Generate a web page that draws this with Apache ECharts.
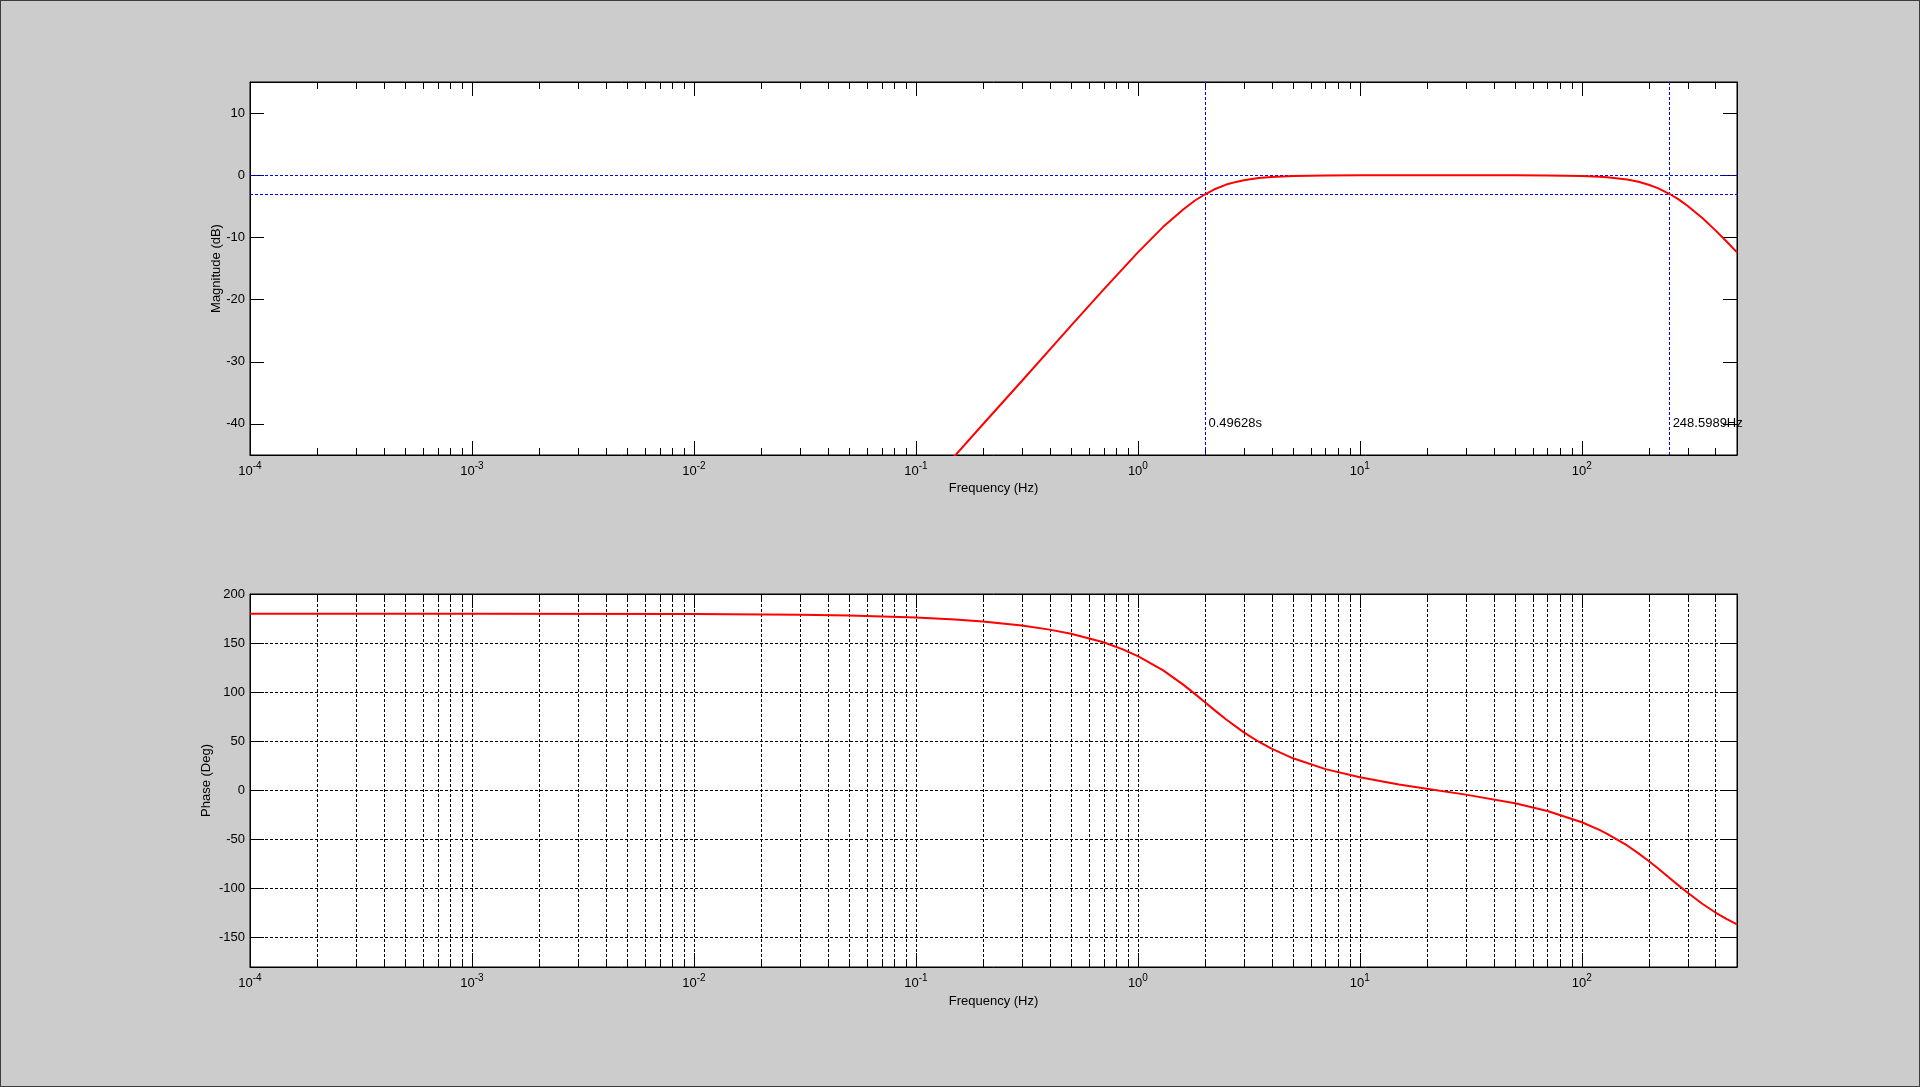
<!DOCTYPE html>
<html>
<head>
<meta charset="utf-8">
<title>Bode plot</title>
<script src="https://cdn.jsdelivr.net/npm/echarts@6/dist/echarts.min.js"></script>
<style>
  html, body { margin: 0; padding: 0; background: #cccccc; }
  #bode { width: 1920px; height: 1087px; box-sizing: border-box; border: 1px solid #3c3c3c; }
</style>
</head>
<body>
<div id="bode"></div>
<script>
// magnitude curve
const magFreqHz = [0.1, 0.15, 0.2, 0.3, 0.4, 0.5, 0.7, 1, 1.3, 1.6, 1.8, 2, 2.2, 2.5, 2.8, 3, 3.5, 4, 5, 7, 10, 15, 20, 30, 50, 70, 100, 120, 130, 160, 180, 200, 220, 250, 275, 300, 350, 400, 450, 500];
const magDb = [-52.2, -45.1, -40.1, -33.1, -28.1, -24.2, -18.4, -12.4, -8.3, -5.5, -4.1, -3.1, -2.3, -1.5, -1.03, -0.8, -0.45, -0.27, -0.11, -0.03, 0, 0, 0, 0, -0.01, -0.03, -0.11, -0.23, -0.31, -0.69, -1.05, -1.52, -2.08, -3.06, -3.97, -4.94, -6.93, -8.87, -10.7, -12.4];

// phase curve
const phaseFreqHz = [0.0001, 0.001, 0.01, 0.03, 0.05, 0.1, 0.15, 0.2, 0.3, 0.4, 0.5, 0.7, 0.85, 1, 1.3, 1.6, 1.8, 2, 2.2, 2.5, 3, 3.5, 4, 5, 7, 10, 15, 20, 30, 50, 70, 100, 120, 130, 160, 180, 200, 220, 250, 275, 300, 350, 400, 450, 500];
const phaseDeg = [180, 180, 179.6, 178.8, 178.0, 176.0, 173.9, 171.9, 167.8, 163.7, 159.5, 150.8, 143.8, 136.7, 122.2, 107.7, 98.5, 89.9, 82.2, 72.1, 59.0, 49.5, 42.4, 32.6, 21.6, 13.3, 6.0, 1.7, -4.4, -13.2, -21.1, -32.5, -40.3, -44.3, -56.2, -64.2, -72.0, -79.4, -89.8, -97.6, -104.4, -115.8, -124.5, -131.3, -136.6];

// cursor lines and their labels
const refLevelsDb = [0, -3];
const cutoffLowHz = 2.015;
const cutoffHighHz = 248.5989;
const cutoffLowLabel = '0.49628s';
const cutoffHighLabel = '248.5989Hz';
const cutoffLabelDb = -40;

// axes
const freqMin = 0.0001, freqMax = 500;
const magMin = -45, magMax = 15;
const phaseMin = -180, phaseMax = 200;
const magTicks = [-40, -30, -20, -10, 0, 10];
const phaseTicks = [-150, -100, -50, 0, 50, 100, 150, 200];
const decades = [0.0001, 0.001, 0.01, 0.1, 1, 10, 100];
const mantissas = [2, 3, 4, 5, 6, 7, 8, 9];

const minorFreqs = [];
decades.forEach(d => mantissas.forEach(m => { if (m * d < freqMax) minorFreqs.push(m * d); }));

const FONT = 'Arial, "Liberation Sans", sans-serif';
const chart = echarts.init(document.getElementById('bode'));

const grids = [
  { left: 249, top: 81, width: 1487, height: 373 },
  { left: 249, top: 593, width: 1487, height: 373 }
];

function decadeLabel(v) {
  const e = Math.log10(v);
  const r = Math.round(e);
  if (Math.abs(e - r) > 1e-6) return '';
  return '{b|10}{s|' + r + '}';
}

function freqAxis(gridIndex, position, withLabels, grid) {
  return {
    type: 'log', logBase: 10, gridIndex: gridIndex, position: position,
    min: freqMin, max: freqMax,
    name: withLabels ? 'Frequency (Hz)' : '',
    nameLocation: 'middle', nameGap: gridIndex === 0 ? 27 : 28, nameMoveOverlap: false,
    nameTextStyle: { color: '#000', fontSize: 13, fontFamily: FONT },
    axisLine: { show: true, onZero: false, lineStyle: { color: '#000', width: 1 } },
    axisTick: { show: true, inside: true, length: 14, lineStyle: { color: '#000' } },
    axisLabel: {
      show: withLabels, margin: 6, formatter: decadeLabel,
      rich: {
        b: { fontSize: 13, color: '#000', fontFamily: FONT, verticalAlign: 'bottom' },
        s: { fontSize: 10, color: '#000', fontFamily: FONT, verticalAlign: 'bottom', padding: [0, 0, 7, 0] }
      }
    },
    splitLine: { show: grid, lineStyle: { color: '#000', type: [3, 2], width: 1 } }
  };
}

function valueAxis(gridIndex, position, withLabels, min, max, ticks, name, nameGap, grid) {
  return {
    type: 'value', gridIndex: gridIndex, position: position, min: min, max: max,
    name: withLabels ? name : '', nameLocation: 'middle', nameGap: nameGap, nameMoveOverlap: false,
    nameTextStyle: { color: '#000', fontSize: 13, fontFamily: FONT },
    axisLine: { show: true, onZero: false, lineStyle: { color: '#000', width: 1 } },
    axisTick: { show: true, inside: true, length: 14, customValues: ticks, lineStyle: { color: '#000' } },
    axisLabel: { show: withLabels, customValues: ticks, margin: 5, color: '#000', fontSize: 13, fontFamily: FONT },
    splitLine: { show: grid, lineStyle: { color: '#000', type: [3, 2], width: 1 } }
  };
}

// minor log ticks (and dashed minor grid on the phase plot)
function minorSeries(xi, yi, yLo, yHi, fullGrid) {
  return {
    type: 'custom', xAxisIndex: xi, yAxisIndex: yi, silent: true, z: 1,
    data: minorFreqs.map(f => [f, yLo]),
    renderItem: function (params, api) {
      const f = api.value(0);
      const x = Math.round(api.coord([f, yHi])[0]) + 0.5;
      const yt = Math.round(api.coord([f, yHi])[1]);
      const yb = Math.round(api.coord([f, yLo])[1]);
      const children = [
        { type: 'line', shape: { x1: x, y1: yt, x2: x, y2: yt + 7 }, style: { stroke: '#000', lineWidth: 1 } },
        { type: 'line', shape: { x1: x, y1: yb, x2: x, y2: yb - 7 }, style: { stroke: '#000', lineWidth: 1 } }
      ];
      if (fullGrid) {
        children.push({ type: 'line', shape: { x1: x, y1: yt, x2: x, y2: yb }, style: { stroke: '#000', lineWidth: 1, lineDash: [3, 2] } });
      }
      return { type: 'group', children: children };
    }
  };
}

const blueDash = { color: '#0000ff', type: [3, 2], width: 1 };

chart.setOption({
  animation: false,
  backgroundColor: '#cccccc',
  grid: grids.map(g => Object.assign({ backgroundColor: '#ffffff', show: true, borderColor: '#000', borderWidth: 1 }, g)),
  xAxis: [
    freqAxis(0, 'bottom', true, false),
    freqAxis(0, 'top', false, false),
    freqAxis(1, 'bottom', true, true),
    freqAxis(1, 'top', false, false)
  ],
  yAxis: [
    valueAxis(0, 'left', true, magMin, magMax, magTicks, 'Magnitude (dB)', 27, false),
    valueAxis(0, 'right', false, magMin, magMax, magTicks, '', 0, false),
    valueAxis(1, 'left', true, phaseMin, phaseMax, phaseTicks, 'Phase (Deg)', 37, true),
    valueAxis(1, 'right', false, phaseMin, phaseMax, phaseTicks, '', 0, false)
  ],
  series: [
    minorSeries(0, 0, magMin, magMax, false),
    minorSeries(2, 2, phaseMin, phaseMax, true),
    {
      type: 'line', xAxisIndex: 0, yAxisIndex: 0, z: 5,
      data: magFreqHz.map((f, i) => [f, magDb[i]]),
      showSymbol: false, smooth: false, clip: true,
      lineStyle: { color: '#ff0000', width: 2 },
      markLine: {
        silent: true, symbol: 'none', animation: false, z: 3,
        label: { show: false }, lineStyle: blueDash,
        data: refLevelsDb.map(v => ({ yAxis: v })).concat([{ xAxis: cutoffLowHz }, { xAxis: cutoffHighHz }])
      },
      markPoint: {
        silent: true, symbol: 'rect', symbolSize: 0,
        label: { show: true, position: 'right', distance: 3, color: '#000', fontSize: 13, fontFamily: FONT, formatter: p => p.name },
        data: [
          { name: cutoffLowLabel, coord: [cutoffLowHz, cutoffLabelDb] },
          { name: cutoffHighLabel, coord: [cutoffHighHz, cutoffLabelDb] }
        ]
      }
    },
    {
      type: 'line', xAxisIndex: 2, yAxisIndex: 2, z: 5,
      data: phaseFreqHz.map((f, i) => [f, phaseDeg[i]]),
      showSymbol: false, smooth: false, clip: true,
      lineStyle: { color: '#ff0000', width: 2 }
    }
  ]
});
</script>
</body>
</html>
